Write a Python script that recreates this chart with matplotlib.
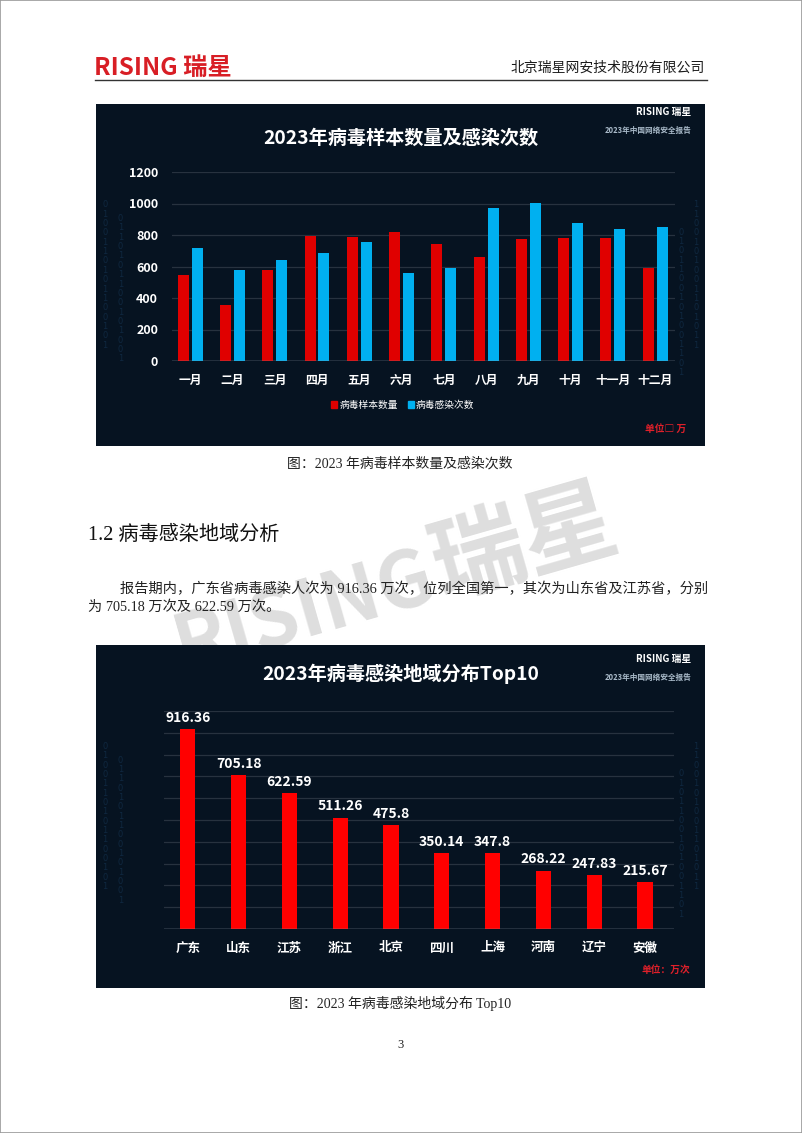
import matplotlib
matplotlib.use('Agg')
import matplotlib.pyplot as plt
from matplotlib.patches import Rectangle, Patch
from matplotlib.lines import Line2D
import numpy as np

plt.rcParams['font.family'] = ['Noto Sans CJK SC', 'DejaVu Sans']

# ---------------- data ----------------
months = ['一月', '二月', '三月', '四月', '五月', '六月', '七月', '八月', '九月', '十月', '十一月', '十二月']
samples = [548, 355, 576, 794, 787, 821, 745, 660, 772, 779, 781, 593]
infections = [720, 580, 643, 688, 753, 559, 590, 971, 1005, 876, 838, 853]
yticks1 = [0, 200, 400, 600, 800, 1000, 1200]
series_names = ['病毒样本数量', '病毒感染次数']

regions = ['广东', '山东', '江苏', '浙江', '北京', '四川', '上海', '河南', '辽宁', '安徽']
region_values = [916.36, 705.18, 622.59, 511.26, 475.8, 350.14, 347.8, 268.22, 247.83, 215.67]
region_labels = ['916.36', '705.18', '622.59', '511.26', '475.8', '350.14', '347.8', '268.22', '247.83', '215.67']
yticks2 = [0, 100, 200, 300, 400, 500, 600, 700, 800, 900, 1000]

# ---------------- layout helpers ----------------
W, H = 802, 1133
fig = plt.figure(figsize=(W / 100, H / 100), dpi=100)
fig.patch.set_facecolor('white')


def rect(x0, y0, x1, y1):
    return [x0 / W, 1 - y1 / H, (x1 - x0) / W, (y1 - y0) / H]


def fx(x):
    return x / W


def fy(y):
    return 1 - y / H


SERIF = ['Liberation Serif', 'Noto Sans CJK SC']
BG = '#061321'
GRID = '#27323f'
BASE = '#8d98a4'
UNIT_RED = '#e0202a'

# page border
fig.add_artist(Rectangle((0, 0), 1, 1, transform=fig.transFigure, fill=False,
                         edgecolor='#9a9a9a', lw=1.2, zorder=10))

# header
fig.text(fx(94), fy(68), 'RISING 瑞星', color='#d81e25', fontsize=17.5, fontweight='heavy',
         va='center', ha='left')
fig.text(fx(705), fy(68), '北京瑞星网安技术股份有限公司', color='#1a1a1a', fontsize=10,
         va='center', ha='right')
fig.add_artist(Line2D([fx(95), fx(707)], [fy(80), fy(80)], color='#333333', lw=1.0,
                      transform=fig.transFigure))

# watermark
fig.text(fx(305), fy(612), 'RISING', color='#dedede', fontsize=56, fontweight='heavy',
         rotation=16, ha='center', va='center', zorder=-1)
fig.text(fx(525), fy(545), '瑞星', color='#dedede', fontsize=68, fontweight='heavy',
         rotation=16, ha='center', va='center', zorder=-1)

# decorative digit rain pattern (edges only)
rain_pattern = '0100110101100101001101011001011010011010'


def background(box):
    bg = fig.add_axes(rect(*box))
    bg.set_facecolor(BG)
    bg.set_xticks([])
    bg.set_yticks([])
    for s in bg.spines.values():
        s.set_visible(False)
    bg.set_xlim(0, 1)
    bg.set_ylim(0, 1)
    cols = [0.015, 0.04, 0.96, 0.985]
    for i, cx in enumerate(cols):
        seq = rain_pattern[i * 3:i * 3 + 16]
        bg.text(cx, 0.5 - 0.04 * (i % 3), '\n'.join(seq), color='#17395a', alpha=0.55,
                fontsize=6, ha='center', va='center', linespacing=1.05,
                family='DejaVu Sans')
    return bg


def corner_logo(y1, y2):
    fig.text(fx(691), fy(y1), 'RISING 瑞星', color='white', fontsize=7, fontweight='heavy',
             ha='right', va='center')
    fig.text(fx(691), fy(y2), '2023年中国网络安全报告', color='#a9bac9', fontsize=5.5,
             fontweight='bold', ha='right', va='center')


# ================= chart 1 =================
background((96, 104, 705, 446))
fig.text(fx(401), fy(138), '2023年病毒样本数量及感染次数', color='white', fontsize=13.8,
         fontweight='bold', ha='center', va='center')
corner_logo(112, 130)

ax1 = fig.add_axes(rect(172, 172, 675, 361))
ax1.patch.set_alpha(0)
x = np.arange(len(months))
b1 = ax1.bar(x - 0.165, samples, 0.26, color='#e00000', zorder=3)
b2 = ax1.bar(x + 0.165, infections, 0.26, color='#00b0f0', zorder=3)
ax1.set_xlim(-0.43, 11.47)
ax1.set_ylim(0, 1200)
ax1.set_yticks(yticks1)
ax1.set_yticklabels([str(v) for v in yticks1], color='white', fontsize=9, fontweight='bold')
ax1.set_xticks(x)
ax1.set_xticklabels(months, color='white', fontsize=8.5, fontweight='bold')
ax1.tick_params(axis='both', length=0)
ax1.tick_params(axis='y', pad=10)
ax1.tick_params(axis='x', pad=9)
ax1.yaxis.grid(True, color=GRID, lw=0.9, zorder=0)
ax1.set_axisbelow(True)
for s in ax1.spines.values():
    s.set_visible(False)
ax1.axhline(0, color=BASE, lw=1.0, zorder=4)

fig.legend([Patch(color='#e00000'), Patch(color='#00b0f0')], series_names,
           loc='center', bbox_to_anchor=(fx(403), fy(405)), ncol=2, frameon=False,
           fontsize=7, labelcolor='white', handlelength=0.6, handleheight=0.6,
           handletextpad=0.25, columnspacing=1.0)
fig.text(fx(686), fy(429), '单位□ 万', color=UNIT_RED, fontsize=7, fontweight='bold',
         ha='right', va='center')

fig.text(fx(400), fy(464), '图：2023 年病毒样本数量及感染次数', color='#222222', fontsize=10,
         ha='center', va='center', family=SERIF)

# ================= text block =================
fig.text(fx(88), fy(535), '1.2 病毒感染地域分析', color='#111111', fontsize=14.5,
         fontweight='medium', ha='left', va='center', family=SERIF)
fig.text(fx(120), fy(589),
         '报告期内，广东省病毒感染人次为 916.36 万次，位列全国第一，其次为山东省及江苏省，分别',
         color='#222222', fontsize=10.25, ha='left', va='center', family=SERIF)
fig.text(fx(88), fy(607), '为 705.18 万次及 622.59 万次。', color='#222222', fontsize=10.25,
         ha='left', va='center', family=SERIF)

# ================= chart 2 =================
background((96, 645, 705, 988))
fig.text(fx(401), fy(674), '2023年病毒感染地域分布Top10', color='white', fontsize=13.8,
         fontweight='bold', ha='center', va='center')
corner_logo(659, 677)

ax2 = fig.add_axes(rect(164, 711, 674, 929))
ax2.patch.set_alpha(0)
x2 = np.arange(len(regions))
bars = ax2.bar(x2, region_values, 0.3, color='#ff0000', zorder=3)
ax2.set_xlim(-0.47, 9.57)
ax2.set_ylim(0, 1000)
ax2.set_yticks(yticks2)
ax2.set_yticklabels([])
ax2.set_xticks(x2)
ax2.set_xticklabels(regions, color='white', fontsize=9, fontweight='bold')
ax2.tick_params(axis='both', length=0)
ax2.tick_params(axis='x', pad=9)
ax2.yaxis.grid(True, color=GRID, lw=0.9, zorder=0)
ax2.set_axisbelow(True)
for s in ax2.spines.values():
    s.set_visible(False)
ax2.axhline(0, color=BASE, lw=1.0, zorder=4)
ax2.bar_label(bars, labels=region_labels, padding=3, color='white', fontsize=10,
              fontweight='bold')

fig.text(fx(690), fy(970), '单位：万次', color=UNIT_RED, fontsize=7, fontweight='bold',
         ha='right', va='center')

fig.text(fx(400), fy(1003), '图：2023 年病毒感染地域分布 Top10', color='#222222', fontsize=10,
         ha='center', va='center', family=SERIF)

fig.text(fx(400), fy(1045), '3', color='#222222', fontsize=9, ha='center', va='center',
         family=SERIF)

fig.savefig('out.png', dpi=100, facecolor='white')
